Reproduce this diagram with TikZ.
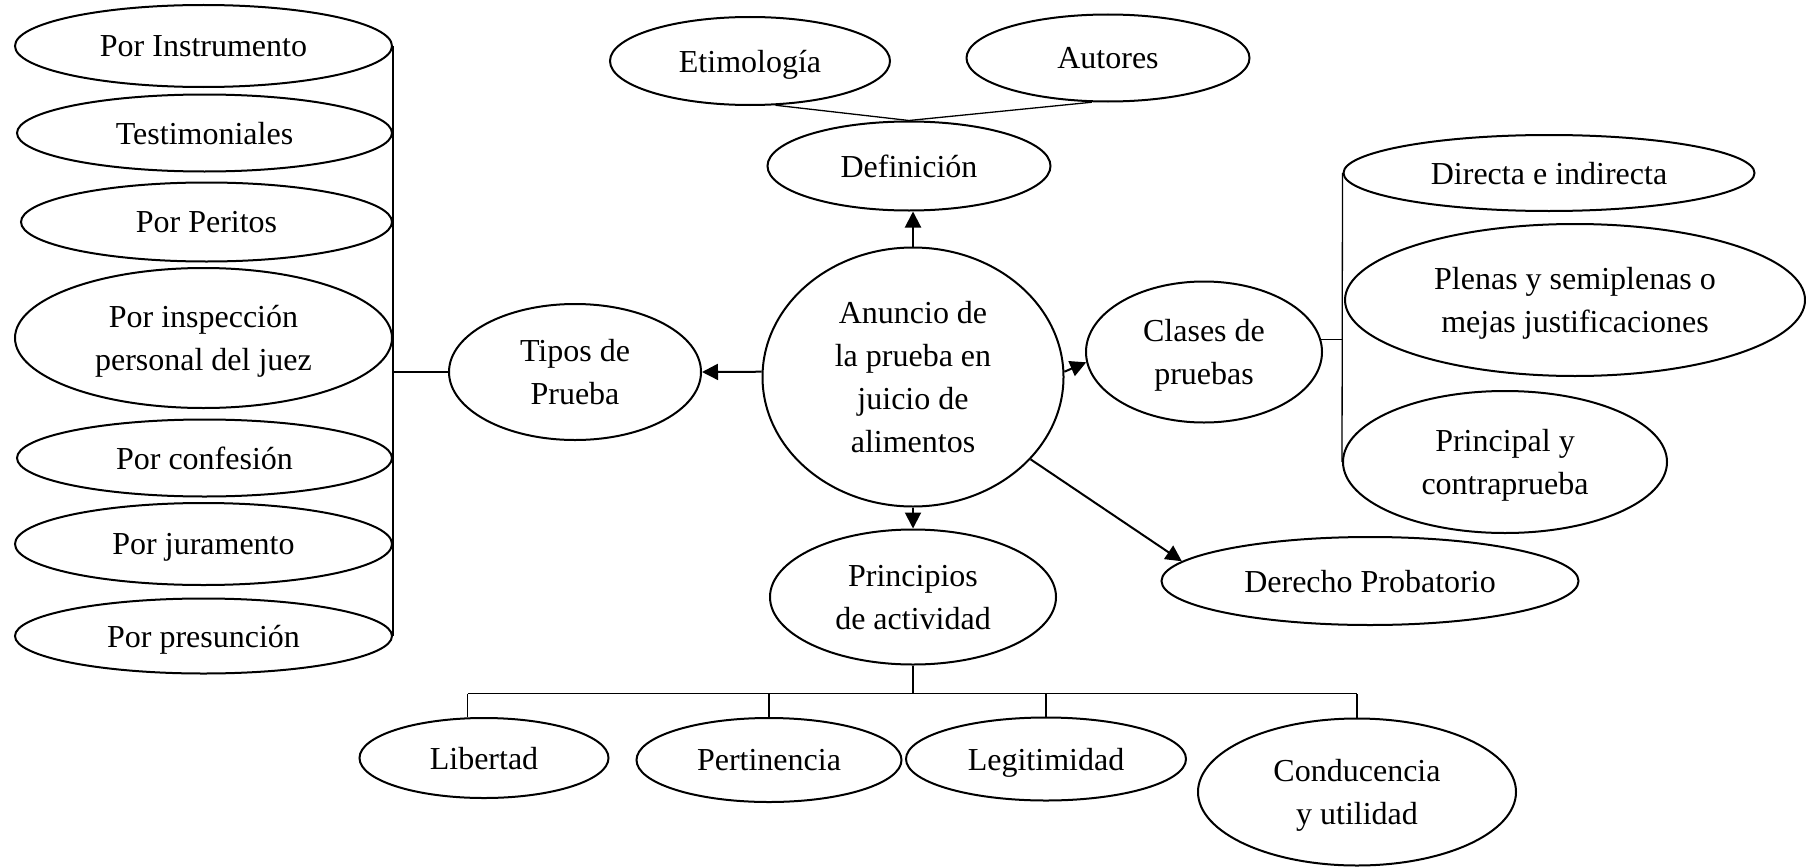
\documentclass[tikz,border=0pt]{standalone}
\usepackage{fontspec}
\setmainfont{Liberation Serif}
\usetikzlibrary{arrows.meta, shapes.geometric}
\tikzset{
  bubble/.style = {ellipse, draw=black, line width=2pt, inner sep=0pt,
    align=center, text depth=0pt, font=\fontsize{32}{43}\selectfont},
  link/.style = {line width=1.3pt},
  arrowlink/.style = {->, line width=2pt}}

\begin{document}
\begin{tikzpicture}[x=1pt, y=-1pt, >={Triangle[length=16pt, width=16pt]}]
\useasboundingbox (0,0) rectangle (1806,867);

% centro
\node [bubble, minimum width=301pt, minimum height=259pt] (central) at (913,377)
  {Anuncio de\\la prueba en\\juicio de\\alimentos};

% definicion
\node [bubble, minimum width=283pt, minimum height=89pt] (defin) at (909,166) {Definición};
\node [bubble, minimum width=280pt, minimum height=88pt] (etim) at (750,61) {Etimología};
\node [bubble, minimum width=283pt, minimum height=87pt] (autores) at (1108,58) {Autores};

% tipos de prueba
\node [bubble, minimum width=252pt, minimum height=136pt] (tipos) at (575,372) {Tipos de\\Prueba};
\node [bubble, minimum width=377pt, minimum height=82pt] (instr) at (203.5,46) {Por Instrumento};
\node [bubble, minimum width=375pt, minimum height=77pt] (testim) at (204.5,133) {Testimoniales};
\node [bubble, minimum width=371pt, minimum height=79pt] (peritos) at (206.5,222) {Por Peritos};
\node [bubble, minimum width=377pt, minimum height=140pt] (inspec) at (203.5,338) {Por inspección\\personal del juez};
\node [bubble, minimum width=375pt, minimum height=77pt] (confes) at (204.5,458) {Por confesión};
\node [bubble, minimum width=377pt, minimum height=82pt] (jurament) at (203.5,544) {Por juramento};
\node [bubble, minimum width=377pt, minimum height=75pt] (presun) at (203.5,636) {Por presunción};

% clases de pruebas
\node [bubble, minimum width=236pt, minimum height=141pt] (clases) at (1204,352) {Clases de\\pruebas};
\node [bubble, minimum width=411pt, minimum height=76pt] (directa) at (1549,173) {Directa e indirecta};
\node [bubble, minimum width=460pt, minimum height=152pt] (plenas) at (1575,300) {Plenas y semiplenas o\\mejas justificaciones};
\node [bubble, minimum width=324pt, minimum height=142pt] (principal) at (1505,462) {Principal y\\contraprueba};

\node [bubble, minimum width=417pt, minimum height=88pt] (derecho) at (1370,581) {Derecho Probatorio};

% principios
\node [bubble, minimum width=286pt, minimum height=135pt] (princ) at (913,597) {Principios\\de actividad};
\node [bubble, minimum width=249pt, minimum height=80pt] (lib) at (484,758) {Libertad};
\node [bubble, minimum width=265pt, minimum height=84pt] (pert) at (769,760) {Pertinencia};
\node [bubble, minimum width=280pt, minimum height=83pt] (legit) at (1046,759) {Legitimidad};
\node [bubble, minimum width=318pt, minimum height=147pt] (cond) at (1357,792) {Conducencia\\y utilidad};

% flechas
\draw [arrowlink] (central.north) -- (central.north |- defin.south);
\draw [arrowlink] (central.178) -- (tipos.east);
\draw [arrowlink] (central.2) -- (clases.185);
\draw [arrowlink] (central.-35) -- (derecho.174);
\draw [arrowlink] (central.south) -- (princ.north);

% lineas
\draw [link] (etim.-60) -- (defin.north) -- (autores.-110);
\draw [link] (instr.east) -- (presun.east);
\draw [link] (tipos.west) -- (tipos.west -| instr.east);
\draw [link] (directa.west) -- (principal.west);
\draw [link] (clases.6) -- (clases.6 -| directa.west);
\draw [link] (princ.south) -- ++(0,28) coordinate (split);
\draw [link] (lib.112 |- split) -- (cond.north |- split);
\foreach \n in {lib.112, pert.north, legit.north, cond.north}
  \draw [link] (\n) -- (\n |- split);
\end{tikzpicture}
\end{document}
